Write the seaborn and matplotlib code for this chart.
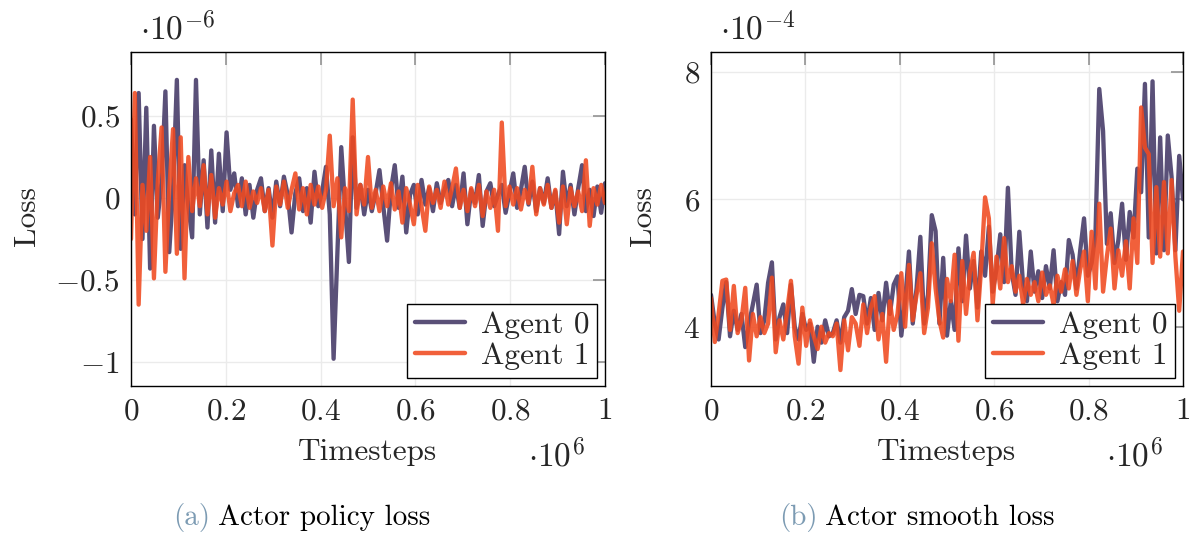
import numpy as np
import pandas as pd
import matplotlib
matplotlib.use("Agg")
import matplotlib.pyplot as plt
import seaborn as sns
from matplotlib.ticker import FuncFormatter, FixedLocator

# ---------------- data ----------------
# timesteps in units of 1e6, 125 evenly spaced logging points
n_points = 125
timesteps_e6 = np.linspace(0.0, 1.0, n_points)

# Actor policy loss, units of 1e-6
policy_agent0 = [
    0.48, -0.10, 0.64, -0.25, 0.55, -0.43, 0.44, -0.12, 0.10, 0.65,
    -0.33, 0.05, 0.72, -0.31, 0.20, -0.05, -0.24, 0.72, -0.10, 0.23,
    -0.18, 0.29, -0.15, 0.27, -0.08, 0.40, 0.05, 0.15, -0.05, 0.12,
    -0.10, 0.08, -0.12, 0.05, 0.12, -0.08, 0.06, -0.12, 0.10, -0.05,
    0.13, 0.02, -0.21, 0.03, 0.12, -0.08, 0.06, -0.15, 0.16, -0.05,
    0.04, 0.19, -0.10, -0.98, -0.33, 0.31, -0.05, -0.39, 0.37, -0.06,
    0.08, -0.10, 0.05, -0.08, 0.03, 0.17, -0.05, -0.26, 0.05, 0.20,
    -0.06, 0.13, -0.21, 0.02, 0.08, -0.10, 0.11, -0.04, 0.06, -0.08,
    0.09, -0.03, 0.05, 0.11, -0.05, 0.08, -0.06, 0.15, -0.16, 0.05,
    -0.03, 0.14, -0.17, 0.04, 0.09, -0.05, 0.02, 0.08, -0.09, 0.03,
    0.15, -0.06, 0.05, 0.19, -0.04, 0.10, -0.08, 0.06, -0.03, 0.12,
    -0.06, 0.04, -0.22, 0.16, -0.05, 0.08, -0.10, 0.06, 0.20, -0.08,
    0.05, -0.11, 0.07, -0.09, 0.09,
]
policy_agent1 = [
    -0.25, 0.64, -0.65, 0.08, -0.20, 0.25, -0.49, 0.10, 0.43, -0.45,
    0.05, 0.42, -0.34, 0.37, -0.49, 0.25, -0.08, 0.12, -0.05, 0.20,
    -0.10, 0.14, -0.12, 0.06, -0.04, 0.10, -0.08, 0.03, 0.08, -0.05,
    0.10, -0.06, 0.04, -0.03, 0.06, -0.08, 0.05, -0.29, 0.07, -0.04,
    0.10, -0.06, 0.05, 0.15, -0.07, 0.06, -0.10, 0.08, -0.04, 0.07,
    -0.06, 0.05, 0.38, -0.05, 0.12, -0.24, 0.06, -0.08, 0.60, -0.10,
    0.08, -0.04, 0.25, -0.06, 0.05, -0.08, 0.07, -0.05, 0.09, -0.07,
    0.04, -0.15, 0.06, -0.04, -0.16, 0.08, -0.05, -0.20, 0.07, -0.03,
    0.05, -0.06, 0.10, -0.04, 0.06, 0.18, -0.06, 0.05, -0.08, 0.06,
    -0.05, 0.08, -0.11, 0.04, -0.06, 0.05, -0.20, 0.46, -0.05, 0.07,
    -0.04, 0.06, -0.07, 0.05, -0.03, 0.19, -0.10, 0.06, -0.04, 0.08,
    -0.06, 0.05, -0.15, 0.07, -0.16, 0.06, -0.05, 0.04, -0.08, 0.23,
    -0.17, 0.06, -0.04, 0.08, -0.03,
]

# Actor smooth loss, units of 1e-4
smooth_agent0 = [
    4.50, 4.05, 3.80, 4.30, 4.70, 3.85, 4.25, 3.95, 4.20, 3.68,
    4.05, 4.35, 4.66, 3.90, 4.10, 4.69, 5.01, 3.80, 4.15, 4.35,
    3.90, 4.66, 4.00, 3.80, 4.20, 3.95, 4.05, 3.45, 4.00, 3.75,
    4.10, 3.85, 3.90, 4.10, 3.75, 4.15, 4.25, 4.59, 4.20, 4.50,
    4.48, 4.05, 4.45, 3.95, 4.53, 4.10, 4.69, 4.20, 4.66, 4.79,
    3.86, 4.40, 5.18, 4.05, 4.60, 5.41, 4.05, 4.50, 5.75, 5.50,
    4.05, 5.08, 3.86, 4.40, 3.95, 5.23, 4.40, 5.43, 4.60, 5.03,
    4.30, 5.18, 4.80, 5.57, 4.55, 4.90, 5.45, 4.70, 6.18, 4.85,
    4.50, 5.49, 4.65, 4.40, 5.18, 4.55, 4.87, 4.45, 4.95, 4.60,
    5.20, 4.40, 4.70, 4.50, 5.36, 5.13, 4.60, 5.20, 5.70, 4.80,
    5.00, 5.45, 7.73, 7.07, 5.30, 5.78, 5.00, 5.35, 5.93, 5.05,
    5.80, 5.40, 6.48, 6.11, 7.81, 5.40, 7.85, 5.15, 6.97, 5.20,
    7.00, 6.35, 5.20, 6.68, 6.00,
]
smooth_agent1 = [
    4.45, 3.76, 4.20, 4.72, 4.74, 3.95, 4.64, 3.90, 4.10, 4.61,
    3.47, 4.20, 3.85, 4.15, 3.90, 4.05, 4.77, 3.60, 4.10, 3.80,
    4.25, 4.72, 3.85, 3.42, 4.30, 3.70, 4.10, 3.85, 3.65, 4.00,
    3.75, 3.90, 3.85, 4.05, 3.32, 4.10, 3.63, 4.15, 4.05, 3.70,
    4.35, 3.90, 4.30, 4.48, 3.80, 4.20, 3.45, 4.40, 3.95, 4.20,
    4.84, 4.00, 4.97, 4.10, 4.50, 4.84, 3.90, 4.30, 5.31, 4.60,
    4.10, 3.83, 4.75, 4.40, 5.13, 3.78, 5.03, 4.20, 4.85, 5.16,
    4.10, 4.95, 6.03, 5.70, 4.35, 5.10, 4.60, 5.39, 4.70, 4.95,
    4.55, 4.80, 4.35, 4.75, 4.50, 4.70, 4.40, 4.85, 4.50, 4.65,
    4.35, 4.80, 4.55, 4.90, 4.60, 5.03, 4.50, 4.90, 5.18, 4.40,
    5.49, 4.60, 5.93, 4.55, 5.10, 5.54, 4.60, 5.20, 4.80, 5.34,
    4.60, 5.70, 5.00, 7.44, 6.81, 6.71, 5.00, 6.19, 5.10, 6.27,
    5.15, 6.30, 5.10, 4.25, 5.18,
]

agent_labels = ["Agent 0", "Agent 1"]
x_ticks = [0, 0.2, 0.4, 0.6, 0.8, 1]
policy_yticks = [-1, -0.5, 0, 0.5]
smooth_yticks = [4, 6, 8]
captions = [("(a)", "Actor policy loss"), ("(b)", "Actor smooth loss")]

# ---------------- style ----------------
sns.set_style("white")
plt.rcParams["font.family"] = ["cmr10", "DejaVu Serif"]
plt.rcParams["mathtext.fontset"] = "cm"
plt.rcParams["axes.formatter.use_mathtext"] = True

PURPLE = "#554a74"
ORANGE = "#f04a20"
CAP_BLUE = "#7c9bb3"
FS = 22.5
CAP_FS = 21
EXP_FS = 24

W, H = 1189, 533
fig = plt.figure(figsize=(W / 100, H / 100), dpi=100)
ax1 = fig.add_axes([131 / W, 1 - 386 / H, 474 / W, 334 / H])
ax2 = fig.add_axes([711 / W, 1 - 386 / H, 472 / W, 334 / H])


def num_fmt(v, pos):
    s = f"{v:g}"
    return f"${s}$"


def draw(ax, y0, y1, yticks, ylim, yexp, ylab_x):
    df0 = pd.DataFrame({"t": timesteps_e6, "loss": y0, "agent": agent_labels[0]})
    df1 = pd.DataFrame({"t": timesteps_e6, "loss": y1, "agent": agent_labels[1]})
    sns.lineplot(data=df0, x="t", y="loss", ax=ax, color=PURPLE, lw=3.1,
                 alpha=0.97, label=agent_labels[0], estimator=None)
    sns.lineplot(data=df1, x="t", y="loss", ax=ax, color=ORANGE, lw=3.1,
                 alpha=0.88, label=agent_labels[1], estimator=None)
    ax.set_xlim(0, 1)
    ax.set_ylim(*ylim)
    ax.xaxis.set_major_locator(FixedLocator(x_ticks))
    ax.yaxis.set_major_locator(FixedLocator(yticks))
    ax.xaxis.set_major_formatter(FuncFormatter(num_fmt))
    ax.yaxis.set_major_formatter(FuncFormatter(num_fmt))
    ax.grid(True, color="#ebebeb", lw=1.0)
    ax.set_axisbelow(True)
    ax.tick_params(direction="in", length=9, width=1.1, color="#8a8a8a",
                   top=True, right=True, labelsize=FS, pad=8)
    for sp in ax.spines.values():
        sp.set_color("black")
        sp.set_linewidth(1.0)
    ax.set_xlabel("Timesteps", fontsize=FS)
    ax.set_ylabel("Loss", fontsize=FS)
    ax.xaxis.set_label_coords(0.5, -0.155)
    ax.yaxis.set_label_coords(ylab_x, 0.51)
    ax.text(0.02, 1.02, rf"$\cdot 10^{{{yexp}}}$", transform=ax.transAxes,
            fontsize=EXP_FS, ha="left", va="bottom")
    ax.text(0.958, -0.26, r"$\cdot 10^{6}$", transform=ax.transAxes,
            fontsize=EXP_FS, ha="right", va="bottom")
    leg = ax.legend(loc="lower right", fontsize=FS, frameon=True, fancybox=False,
                    edgecolor="black", framealpha=1, borderaxespad=0.25,
                    borderpad=0.25, handlelength=1.6, labelspacing=0.1,
                    handletextpad=0.5)
    leg.get_frame().set_linewidth(1.0)
    for h in leg.get_lines():
        h.set_linewidth(3.2)


draw(ax1, policy_agent0, policy_agent1, policy_yticks, (-1.146, 0.89), "-6", -0.19)
draw(ax2, smooth_agent0, smooth_agent1, smooth_yticks, (3.07, 8.31), "-4", -0.115)

# captions
for (tag, txt), x_tag, x_txt in zip(captions, [173, 779], [218, 825]):
    fig.text(x_tag / W, 1 - 518 / H, tag, color=CAP_BLUE, fontsize=CAP_FS,
             ha="left", va="center")
    fig.text(x_txt / W, 1 - 518 / H, txt, color="black", fontsize=CAP_FS,
             ha="left", va="center")

fig.savefig("out.png", dpi=100)
